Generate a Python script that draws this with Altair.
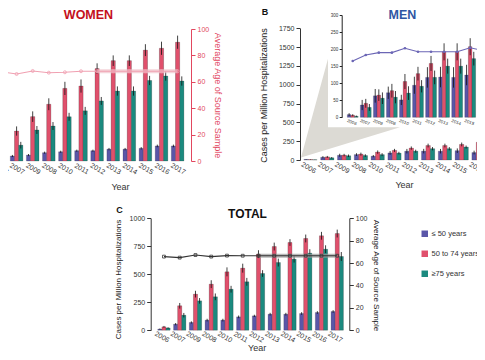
import altair as alt
import pandas as pd

# ---------------- data ----------------
years = ["2006", "2007", "2009", "2008", "2010", "2011", "2012", "2013", "2014", "2015", "2016", "2017"]
groups = ["≤ 50 years", "50 to 74 years", "≥75 years"]
colors = ["#5a56a8", "#e0506c", "#1b8a7f"]

# WOMEN (cases per million hospitalizations)
women_le50 = [10, 38, 45, 63, 70, 78, 78, 90, 90, 96, 114, 114]
women_50_74 = [40, 227, 336, 430, 550, 568, 700, 760, 760, 840, 854, 900]
women_ge75 = [25, 120, 235, 265, 335, 380, 455, 530, 530, 610, 644, 606]
women_err_le50 = [5, 8, 8, 8, 8, 8, 8, 9, 9, 9, 10, 10]
women_err_50_74 = [15, 35, 40, 45, 50, 50, 40, 40, 40, 45, 50, 50]
women_err_ge75 = [10, 25, 30, 30, 30, 30, 30, 35, 35, 35, 35, 35]
women_age = [67.6, 65.9, 68.2, 66.9, 67.2, 68.0, 68.0, 68.0, 68.0, 68.0, 68.0, 68.0]

# MEN (2017 lies outside the visible crop)
men_years = years[:11]
men_le50 = [8, 36, 63, 72, 51, 94, 117, 118, 117, 124, 99]
men_50_74 = [6, 41, 65, 78, 105, 128, 158, 192, 192, 207, 236]
men_ge75 = [3, 29, 56, 59, 71, 91, 117, 150, 150, 172, 200]
men_err_le50 = [4, 15, 20, 18, 15, 25, 30, 30, 30, 30, 25]
men_err_50_74 = [3, 13, 17, 20, 22, 20, 22, 25, 25, 25, 25]
men_err_ge75 = [2, 10, 17, 18, 20, 18, 20, 22, 22, 20, 20]
men_age = [55.0, 60.9, 63.2, 63.2, 67.5, 64.1, 64.1, 64.1, 64.1, 68.0, 65.1]

# TOTAL
total_le50 = [10, 54, 69, 90, 90, 119, 128, 143, 143, 149, 158, 167]
total_50_74 = [30, 218, 322, 411, 521, 554, 679, 747, 783, 819, 843, 863]
total_ge75 = [20, 134, 262, 298, 366, 432, 506, 604, 634, 688, 723, 658]
total_err_le50 = [5, 10, 10, 12, 12, 12, 10, 12, 12, 12, 12, 12]
total_err_50_74 = [8, 25, 30, 35, 40, 40, 35, 35, 30, 35, 35, 35]
total_err_ge75 = [6, 20, 25, 30, 30, 35, 30, 35, 30, 35, 35, 40]
total_age = [65.7, 64.8, 67.1, 65.7, 66.6, 66.5, 66.5, 66.5, 66.5, 66.5, 66.5, 66.5]

# zoom call-out wedge (in main MEN-panel units: year position, cases)
wedge_x = [-0.565, 1.041, 1.043, 5.327]
wedge_top = [33, 1346, 435, 435]
wedge_bottom = [33, 142, 142, 435]

yaxis_title = "Cases per Million Hospitalizations"
age_title = "Average Age of Source Sample"
FONT = "Liberation Sans"

W, H = 469, 344  # svg size that fits the 485x360 window with its 8px margin


def long_table(yrs, series, errors):
    rows = []
    for g, vals, errs in zip(groups, series, errors):
        for yr, v, e in zip(yrs, vals, errs):
            rows.append({"year": yr, "group": g, "value": v, "lo": max(v - e, 0), "hi": v + e})
    return pd.DataFrame(rows)


def age_table(yrs, ages):
    return pd.DataFrame({"year": yrs, "age": ages,
                         "late": [years.index(y) >= years.index("2012") for y in yrs]})


women_df = long_table(years, [women_le50, women_50_74, women_ge75],
                      [women_err_le50, women_err_50_74, women_err_ge75])
men_df = long_table(men_years, [men_le50, men_50_74, men_ge75],
                    [men_err_le50, men_err_50_74, men_err_ge75])
total_df = long_table(years, [total_le50, total_50_74, total_ge75],
                      [total_err_le50, total_err_50_74, total_err_ge75])
women_age_df = age_table(years, women_age)
men_age_df = age_table(men_years, men_age)
total_age_df = age_table(years, total_age)
wedge_df = pd.DataFrame({"wx": wedge_x, "wt": wedge_top, "wb": wedge_bottom})

color_scale = alt.Scale(domain=groups, range=colors)
legend_def = alt.Legend(orient="none", legendX=413, legendY=222, title=None,
                        symbolType="square", symbolSize=42, symbolStrokeWidth=0,
                        labelFontSize=7.5, labelColor="#333", labelFont=FONT,
                        rowPadding=11, labelOffset=3, padding=0)


def bar_layers(df, xs, ys, offs, xaxis=None, yaxis=None):
    X = alt.X("year:N", scale=xs, sort=years, axis=xaxis)
    Xn = alt.X("year:N", scale=xs, sort=years, axis=None)
    XO = alt.XOffset("group:N", scale=offs, sort=groups)
    Y = alt.Y("value:Q", scale=ys, axis=yaxis)
    Yn = alt.Y("value:Q", scale=ys, axis=None)
    base = alt.Chart(df)
    shadow = base.transform_filter(
        alt.FieldOneOfPredicate(field="group", oneOf=groups[1:])
    ).mark_bar(color="#9a9a9a", opacity=0.55, xOffset=1.6).encode(x=Xn, xOffset=XO, y=Yn)
    bars = base.mark_bar(stroke="#222", strokeWidth=0.4, strokeOpacity=0.5).encode(
        x=X, xOffset=XO, y=Y,
        color=alt.Color("group:N", scale=color_scale, sort=groups, legend=legend_def))
    err = base.mark_rule(color="#111", strokeWidth=0.8).encode(
        x=Xn, xOffset=XO, y=alt.Y("lo:Q", scale=ys, axis=None), y2="hi:Q")
    return [shadow, bars, err]


def age_layers(df, xs, ages, axis, line_color, band_color, shape, filled, psize):
    X = alt.X("year:N", scale=xs, sort=years, axis=None, bandPosition=0.5)
    Y = alt.Y("age:Q", scale=ages, axis=axis)
    Yn = alt.Y("age:Q", scale=ages, axis=None)
    out = []
    if band_color:
        out.append(alt.Chart(df).transform_filter("datum.late").mark_line(
            color=band_color, strokeWidth=4, opacity=0.7).encode(x=X, y=Yn))
    out.append(alt.Chart(df).mark_line(color=line_color, strokeWidth=1.1).encode(x=X, y=Y))
    out.append(alt.Chart(df).mark_point(shape=shape, filled=filled, size=psize, color=line_color,
                                        strokeWidth=0.8, opacity=1).encode(x=X, y=Yn))
    return out


def xaxis_years(offset, title=None, tx=0, ty=0, size=7, angle=30, pad=4, shift=0):
    kw = dict(orient="bottom", offset=offset, labelAngle=angle, labelFontSize=size,
              labelAlign="center", labelBaseline="top", labelPadding=pad, labelOffset=shift,
              domain=False, ticks=False, labelColor="#333", labelFont=FONT)
    if title:
        return alt.Axis(title=title, titleX=tx, titleY=ty, titleFontSize=9, titleFontWeight="normal",
                        titleColor="#333", titleAlign="center", titleBaseline="middle", **kw)
    return alt.Axis(title=None, **kw)


RED = "#e2475f"

# ---------- panel A : WOMEN ----------
xA = alt.Scale(type="band", domain=years, range=[-15.55, 177.65], paddingInner=0, paddingOuter=0)
yA = alt.Scale(domain=[0, 1000], range=[153, 21])
ageA = alt.Scale(domain=[0, 100], range=[153, 21])
offA = alt.Scale(domain=groups, paddingOuter=0.42, paddingInner=0)
ageA_axis = alt.Axis(orient="right", offset=183 - W, values=[0, 20, 40, 60, 80, 100], tickSize=4,
                     domainColor=RED, tickColor=RED, labelColor=RED, labelFontSize=7, labelPadding=2,
                     format="d",
                     title=age_title, titleColor=RED, titleFontSize=9, titleFontWeight="normal",
                     titleAngle=90, titleX=26, titleY=87, titleAlign="center", titleBaseline="middle")
panelA = bar_layers(women_df, xA, yA, offA,
                    xaxis=xaxis_years(153 - H, "Year", 112, 25, shift=2.5)) + \
    age_layers(women_age_df, xA, ageA, ageA_axis, "#f0a0b1", "#f1c2ca", "circle", False, 9)

# ---------- panel B : MEN ----------
xB = alt.Scale(type="band", domain=years, range=[294.1, 495.7], paddingInner=0, paddingOuter=0)
yB = alt.Scale(domain=[0, 1750], range=[152, 20.3])
offB = alt.Scale(domain=groups, paddingOuter=0.41, paddingInner=0)
yB_axis = alt.Axis(orient="left", offset=-292, values=[0, 250, 500, 750, 1000, 1250, 1500, 1750],
                   format="d",
                   tickSize=4, labelFontSize=7, labelPadding=2, domainColor="#333", tickColor="#333",
                   title=yaxis_title, titleFontSize=9, titleFontWeight="normal", titleColor="#222",
                   titleAngle=270, titleX=-37, titleY=87, titleAlign="center", titleBaseline="middle")

wedge = alt.Chart(wedge_df).mark_area(color="#dcdad4", opacity=1).encode(
    x=alt.X("wx:Q", scale=alt.Scale(domain=[-0.5, 11.5], range=[294.1, 495.7]), axis=None),
    y=alt.Y("wt:Q", scale=yB, axis=None), y2="wb:Q")

panelB = bar_layers(men_df, xB, yB, offB, xaxis=xaxis_years(152 - H, "Year", 396, 24), yaxis=yB_axis)

xI = alt.Scale(type="band", domain=years, range=[338.2, 494.8], paddingInner=0, paddingOuter=0)
yI = alt.Scale(domain=[0, 300], range=[109.3, 7])
ageI = alt.Scale(domain=[0, 100], range=[109.3, 7])
offI = alt.Scale(domain=groups, paddingOuter=0.31, paddingInner=0)
yI_axis = alt.Axis(orient="left", offset=-333.7, values=[0, 50, 100, 150, 200, 250, 300], tickSize=2.5,
                   format="d",
                   labelFontSize=4.5, labelPadding=1.5, domainColor="#222", tickColor="#222", title=None)
inset = bar_layers(men_df, xI, yI, offI, xaxis=xaxis_years(109.3 - H, size=4.5, angle=20, pad=2),
                   yaxis=yI_axis) + \
    age_layers(men_age_df, xI, ageI, None, "#6b66b5", None, "circle", True, 7)

# ---------- panel C : TOTAL ----------
C0, C1 = 322.2, 210.2  # pixel rows of 0 and 1000 / 100
xC = alt.Scale(type="band", domain=years, range=[148.1, 337.1], paddingInner=0, paddingOuter=0)
yC = alt.Scale(domain=[0, 1000], range=[C0, C1])
ageC = alt.Scale(domain=[0, 100], range=[C0, C1])
offC = alt.Scale(domain=groups, paddingOuter=0.42, paddingInner=0)
yC_axis = alt.Axis(orient="left", offset=-142.7, values=[0, 250, 500, 750, 1000], tickSize=4,
                   format="d",
                   labelFontSize=7, labelPadding=2, domainColor="#333", tickColor="#333",
                   title=yaxis_title, titleFontSize=8, titleFontWeight="normal", titleColor="#222",
                   titleAngle=270, titleX=-32.7, titleY=271, titleAlign="center", titleBaseline="middle")
ageC_axis = alt.Axis(orient="right", offset=341.3 - W, values=[0, 20, 40, 60, 80, 100], tickSize=4,
                     format="d",
                     labelFontSize=7, labelPadding=2, domainColor="#333", tickColor="#333",
                     title=age_title, titleFontSize=8, titleFontWeight="normal", titleColor="#222",
                     titleAngle=90, titleX=26.5, titleY=267, titleAlign="center", titleBaseline="middle")
panelC = bar_layers(total_df, xC, yC, offC,
                    xaxis=xaxis_years(C0 - H, "Year", 248.7, 17.5, pad=3),
                    yaxis=yC_axis) + \
    age_layers(total_age_df, xC, ageC, ageC_axis, "#333333", "#9a9a9a", "square", False, 8)

# ---------- titles ----------
one = pd.DataFrame({"k": [0]})


def label(text, x, y, size, color, baseline="middle", weight="bold"):
    return alt.Chart(one).mark_text(text=text, font=FONT, fontSize=size, fontWeight=weight,
                                    color=color, align="center", baseline=baseline).encode(
        x=alt.value(x), y=alt.value(y))


titles = [
    label("WOMEN", 80.5, 0.5, 12.5, "#c4101c", baseline="top"),
    label("MEN", 394.5, 0.5, 12.5, "#2f56a3", baseline="top"),
    label("B", 257, 0, 9, "#111", baseline="top"),
    label("TOTAL", 239.5, 206, 12, "#111"),
    label("C", 111.5, 202, 9, "#111"),
]

layers = [wedge] + panelA + panelB + inset + panelC + titles

chart = alt.layer(*layers).resolve_scale(
    x="independent", y="independent", xOffset="independent", color="shared"
).properties(
    width=W, height=H, padding=0, autosize=alt.AutoSizeParams(type="none")
).configure(font=FONT).configure_view(stroke="transparent").configure_axis(
    grid=False, labelFont=FONT, titleFont=FONT, labelColor="#333"
)

chart.save("out.html", embed_options={"renderer": "svg", "actions": False})
